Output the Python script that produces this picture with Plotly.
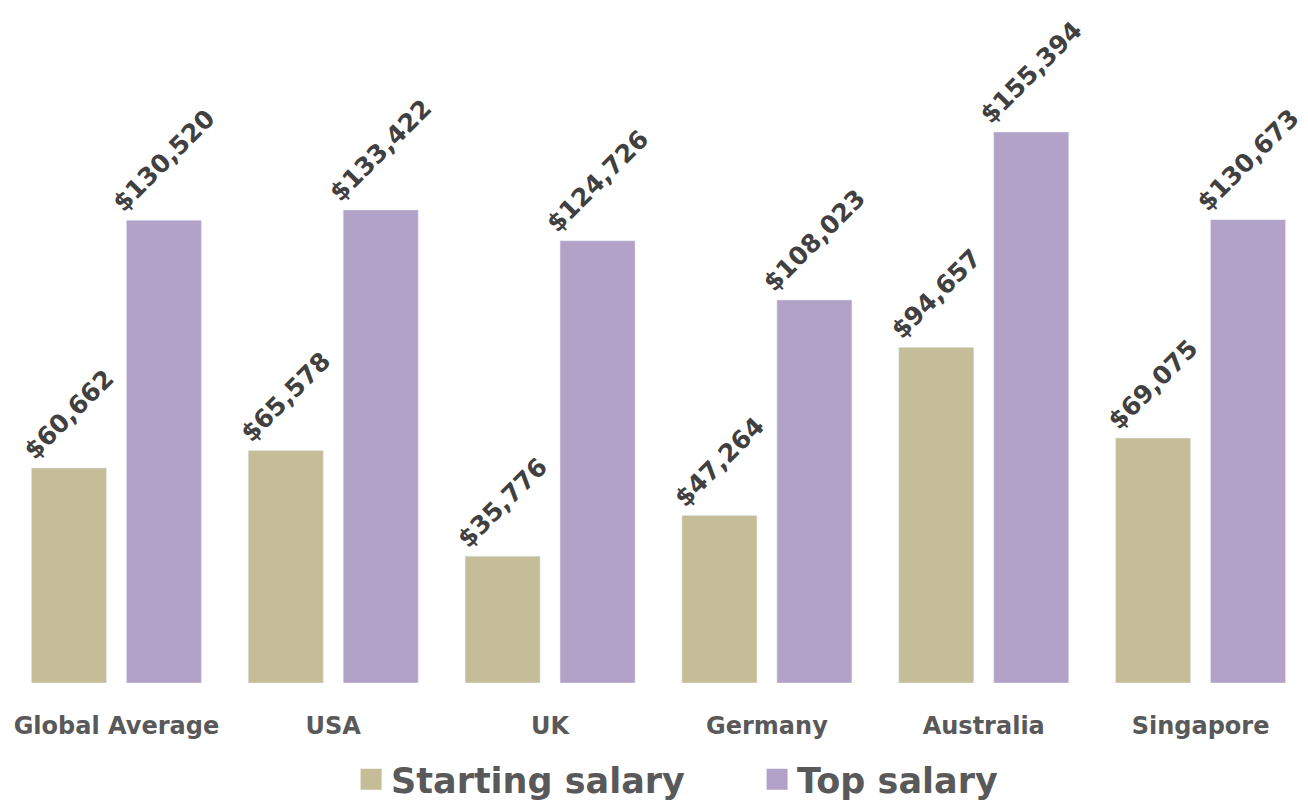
import plotly.graph_objects as go

countries = ["Global Average", "USA", "UK", "Germany", "Australia", "Singapore"]
starting_salary = [60662, 65578, 35776, 47264, 94657, 69075]
top_salary = [130520, 133422, 124726, 108023, 155394, 130673]

FONT = "DejaVu Sans, sans-serif"
START_COLOR = "#C4BD97"
TOP_COLOR = "#B3A2C7"

def money(vals):
    return ["${:,}".format(v) for v in vals]

fig = go.Figure()
for name, vals, color in [("Starting salary", starting_salary, START_COLOR),
                          ("Top salary", top_salary, TOP_COLOR)]:
    fig.add_trace(go.Bar(
        name=name, x=countries, y=vals, marker_color=color, showlegend=False,
        text=money(vals), textposition="outside", textangle=-45,
        cliponaxis=False, constraintext="none",
        textfont=dict(family=FONT, size=25, color="#404040", weight="bold"),
    ))
    # legend entries with bigger square swatches
    fig.add_trace(go.Scatter(
        name=name, x=[None], y=[None], mode="markers",
        marker=dict(symbol="square", size=16, color=color,
                    line=dict(color=color, width=5)),
    ))

fig.update_layout(
    width=1308, height=801,
    margin=dict(l=0, r=7, t=0, b=126),
    plot_bgcolor="white", paper_bgcolor="white",
    barmode="group", bargap=0.124, bargroupgap=0.21,
    xaxis=dict(showgrid=False, showline=False, ticks="", automargin=False,
               ticklabelstandoff=26,
               tickfont=dict(family=FONT, size=24, color="#595959", weight="bold")),
    yaxis=dict(visible=False, range=[0, 190360], automargin=False),
    legend=dict(orientation="h", x=0.2637, xanchor="left", y=-0.1436, yanchor="middle",
                font=dict(family=FONT, size=35, color="#595959", weight="bold"),
                itemwidth=30, entrywidth=361, tracegroupgap=0),
)

fig.write_html("out.html")
